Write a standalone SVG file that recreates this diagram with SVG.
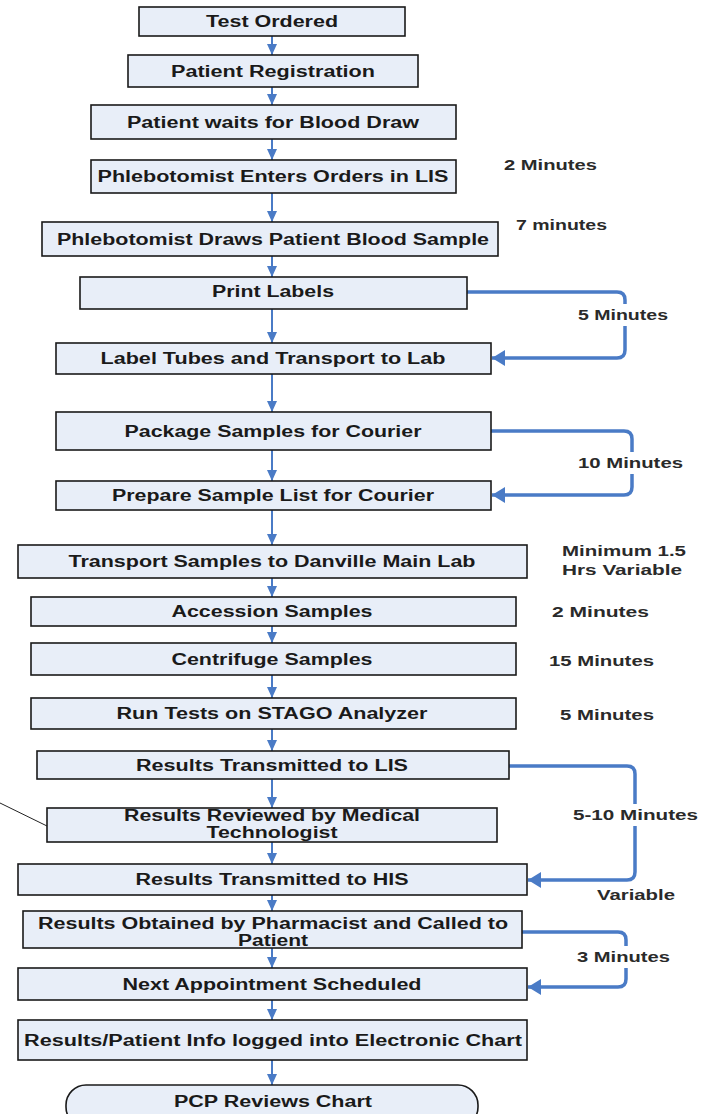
<svg xmlns="http://www.w3.org/2000/svg" width="706" height="1114" viewBox="0 0 706 1114">
<style>
.box{fill:#E8EEF8;stroke:#1a1a1a;stroke-width:1.6}
.t{font-family:"Liberation Sans",Arial,sans-serif;font-weight:bold;font-size:16px;fill:#1a1a1a;text-anchor:middle}
.s{font-family:"Liberation Sans",Arial,sans-serif;font-weight:bold;font-size:15px;fill:#2a2a2a}
.c{fill:none;stroke:#4A7BC6;stroke-width:2}
.cs{fill:none;stroke:#4A7BC6;stroke-width:3.5;stroke-linejoin:round}
</style>
<defs>
<marker id="a" markerUnits="userSpaceOnUse" markerWidth="12" markerHeight="10" refX="11" refY="5" orient="auto">
<path d="M0,0 L11,5 L0,10 Z" fill="#4A7BC6"/>
</marker>
<marker id="b" markerUnits="userSpaceOnUse" markerWidth="14" markerHeight="16" refX="13" refY="8" orient="auto">
<path d="M0,0 L13,8 L0,16 Z" fill="#4A7BC6"/>
</marker>
</defs>
<rect width="706" height="1114" fill="#fff"/>
<g id="connectors">
<path class="c" d="M272,36 V55" marker-end="url(#a)"/>
<path class="c" d="M272,87 V105" marker-end="url(#a)"/>
<path class="c" d="M272,139 V160" marker-end="url(#a)"/>
<path class="c" d="M272,193 V222" marker-end="url(#a)"/>
<path class="c" d="M272,256 V277" marker-end="url(#a)"/>
<path class="c" d="M272,309 V343" marker-end="url(#a)"/>
<path class="c" d="M272,374 V412" marker-end="url(#a)"/>
<path class="c" d="M272,450 V481" marker-end="url(#a)"/>
<path class="c" d="M272,510 V545" marker-end="url(#a)"/>
<path class="c" d="M272,578 V597" marker-end="url(#a)"/>
<path class="c" d="M272,626 V643" marker-end="url(#a)"/>
<path class="c" d="M272,675 V698" marker-end="url(#a)"/>
<path class="c" d="M272,729 V751" marker-end="url(#a)"/>
<path class="c" d="M272,779 V808" marker-end="url(#a)"/>
<path class="c" d="M272,842 V864" marker-end="url(#a)"/>
<path class="c" d="M272,895 V911" marker-end="url(#a)"/>
<path class="c" d="M272,948 V968" marker-end="url(#a)"/>
<path class="c" d="M272,1000 V1020" marker-end="url(#a)"/>
<path class="c" d="M272,1060 V1085" marker-end="url(#a)"/>
<path class="cs" d="M467,292 H617 Q625,292 625,300 V350 Q625,358 617,358 H492" marker-end="url(#b)"/>
<path class="cs" d="M491,431 H624 Q632,431 632,439 V487 Q632,495 624,495 H492" marker-end="url(#b)"/>
<path class="cs" d="M509,766 H627 Q635,766 635,774 V872 Q635,880 627,880 H528" marker-end="url(#b)"/>
<path class="cs" d="M522,932 H618 Q626,932 626,940 V979 Q626,987 618,987 H528" marker-end="url(#b)"/>
<path d="M0,803 L47,826" fill="none" stroke="#222" stroke-width="1"/>
</g>
<g id="labels">
<rect x="575" y="304" width="96" height="22" fill="#fff"/>
<rect x="575" y="452" width="110" height="22" fill="#fff"/>
<rect x="570" y="804" width="130" height="22" fill="#fff"/>
<rect x="574" y="946" width="100" height="22" fill="#fff"/>
<text class="s" x="504" y="170" textLength="93" lengthAdjust="spacingAndGlyphs">2 Minutes</text>
<text class="s" x="516" y="230" textLength="91" lengthAdjust="spacingAndGlyphs">7 minutes</text>
<text class="s" x="578" y="320" textLength="90" lengthAdjust="spacingAndGlyphs">5 Minutes</text>
<text class="s" x="578" y="468" textLength="105" lengthAdjust="spacingAndGlyphs">10 Minutes</text>
<text class="s" x="562" y="556" textLength="124" lengthAdjust="spacingAndGlyphs">Minimum 1.5</text>
<text class="s" x="562" y="575" textLength="120" lengthAdjust="spacingAndGlyphs">Hrs Variable</text>
<text class="s" x="552" y="617" textLength="97" lengthAdjust="spacingAndGlyphs">2 Minutes</text>
<text class="s" x="549" y="666" textLength="105" lengthAdjust="spacingAndGlyphs">15 Minutes</text>
<text class="s" x="560" y="720" textLength="94" lengthAdjust="spacingAndGlyphs">5 Minutes</text>
<text class="s" x="573" y="820" textLength="125" lengthAdjust="spacingAndGlyphs">5-10 Minutes</text>
<text class="s" x="597" y="900" textLength="78" lengthAdjust="spacingAndGlyphs">Variable</text>
<text class="s" x="577" y="962" textLength="93" lengthAdjust="spacingAndGlyphs">3 Minutes</text>
</g>
<g id="n1"><rect class="box" x="139" y="7" width="266" height="29"/><text class="t" x="272" y="27" textLength="132" lengthAdjust="spacingAndGlyphs">Test Ordered</text></g>
<g id="n2"><rect class="box" x="128" y="55" width="290" height="32"/><text class="t" x="273" y="77" textLength="204" lengthAdjust="spacingAndGlyphs">Patient Registration</text></g>
<g id="n3"><rect class="box" x="91" y="105" width="365" height="34"/><text class="t" x="273" y="128" textLength="292" lengthAdjust="spacingAndGlyphs">Patient waits for Blood Draw</text></g>
<g id="n4"><rect class="box" x="91" y="160" width="365" height="33"/><text class="t" x="273" y="182" textLength="351" lengthAdjust="spacingAndGlyphs">Phlebotomist Enters Orders in LIS</text></g>
<g id="n5"><rect class="box" x="42" y="222" width="456" height="34"/><text class="t" x="273" y="245" textLength="432" lengthAdjust="spacingAndGlyphs">Phlebotomist Draws Patient Blood Sample</text></g>
<g id="n6"><rect class="box" x="80" y="277" width="387" height="32"/><text class="t" x="273" y="297" textLength="122" lengthAdjust="spacingAndGlyphs">Print Labels</text></g>
<g id="n7"><rect class="box" x="56" y="343" width="435" height="31"/><text class="t" x="273" y="364" textLength="345" lengthAdjust="spacingAndGlyphs">Label Tubes and Transport to Lab</text></g>
<g id="n8"><rect class="box" x="56" y="412" width="435" height="38"/><text class="t" x="273" y="437" textLength="297" lengthAdjust="spacingAndGlyphs">Package Samples for Courier</text></g>
<g id="n9"><rect class="box" x="56" y="481" width="435" height="29"/><text class="t" x="273" y="501" textLength="322" lengthAdjust="spacingAndGlyphs">Prepare Sample List for Courier</text></g>
<g id="n10"><rect class="box" x="18" y="545" width="509" height="33"/><text class="t" x="272" y="567" textLength="407" lengthAdjust="spacingAndGlyphs">Transport Samples to Danville Main Lab</text></g>
<g id="n11"><rect class="box" x="31" y="597" width="485" height="29"/><text class="t" x="272" y="617" textLength="201" lengthAdjust="spacingAndGlyphs">Accession Samples</text></g>
<g id="n12"><rect class="box" x="31" y="643" width="485" height="32"/><text class="t" x="272" y="665" textLength="201" lengthAdjust="spacingAndGlyphs">Centrifuge Samples</text></g>
<g id="n13"><rect class="box" x="31" y="698" width="485" height="31"/><text class="t" x="272" y="719" textLength="311" lengthAdjust="spacingAndGlyphs">Run Tests on STAGO Analyzer</text></g>
<g id="n14"><rect class="box" x="37" y="751" width="472" height="28"/><text class="t" x="272" y="771" textLength="272" lengthAdjust="spacingAndGlyphs">Results Transmitted to LIS</text></g>
<g id="n15"><rect class="box" x="47" y="808" width="450" height="34"/><text class="t" x="272" y="821" textLength="296" lengthAdjust="spacingAndGlyphs">Results Reviewed by Medical</text><text class="t" x="272" y="838" textLength="131" lengthAdjust="spacingAndGlyphs">Technologist</text></g>
<g id="n16"><rect class="box" x="18" y="864" width="509" height="31"/><text class="t" x="272" y="885" textLength="273" lengthAdjust="spacingAndGlyphs">Results Transmitted to HIS</text></g>
<g id="n17"><rect class="box" x="23" y="911" width="499" height="37"/><text class="t" x="273" y="929" textLength="470" lengthAdjust="spacingAndGlyphs">Results Obtained by Pharmacist and Called to</text><text class="t" x="273" y="946" textLength="70" lengthAdjust="spacingAndGlyphs">Patient</text></g>
<g id="n18"><rect class="box" x="18" y="968" width="509" height="32"/><text class="t" x="272" y="990" textLength="299" lengthAdjust="spacingAndGlyphs">Next Appointment Scheduled</text></g>
<g id="n19"><rect class="box" x="18" y="1020" width="509" height="40"/><text class="t" x="273" y="1046" textLength="498" lengthAdjust="spacingAndGlyphs">Results/Patient Info logged into Electronic Chart</text></g>
<g id="n20"><rect class="box" x="66" y="1085" width="412" height="42" rx="20"/><text class="t" x="273" y="1107" textLength="198" lengthAdjust="spacingAndGlyphs">PCP Reviews Chart</text></g>
</svg>
